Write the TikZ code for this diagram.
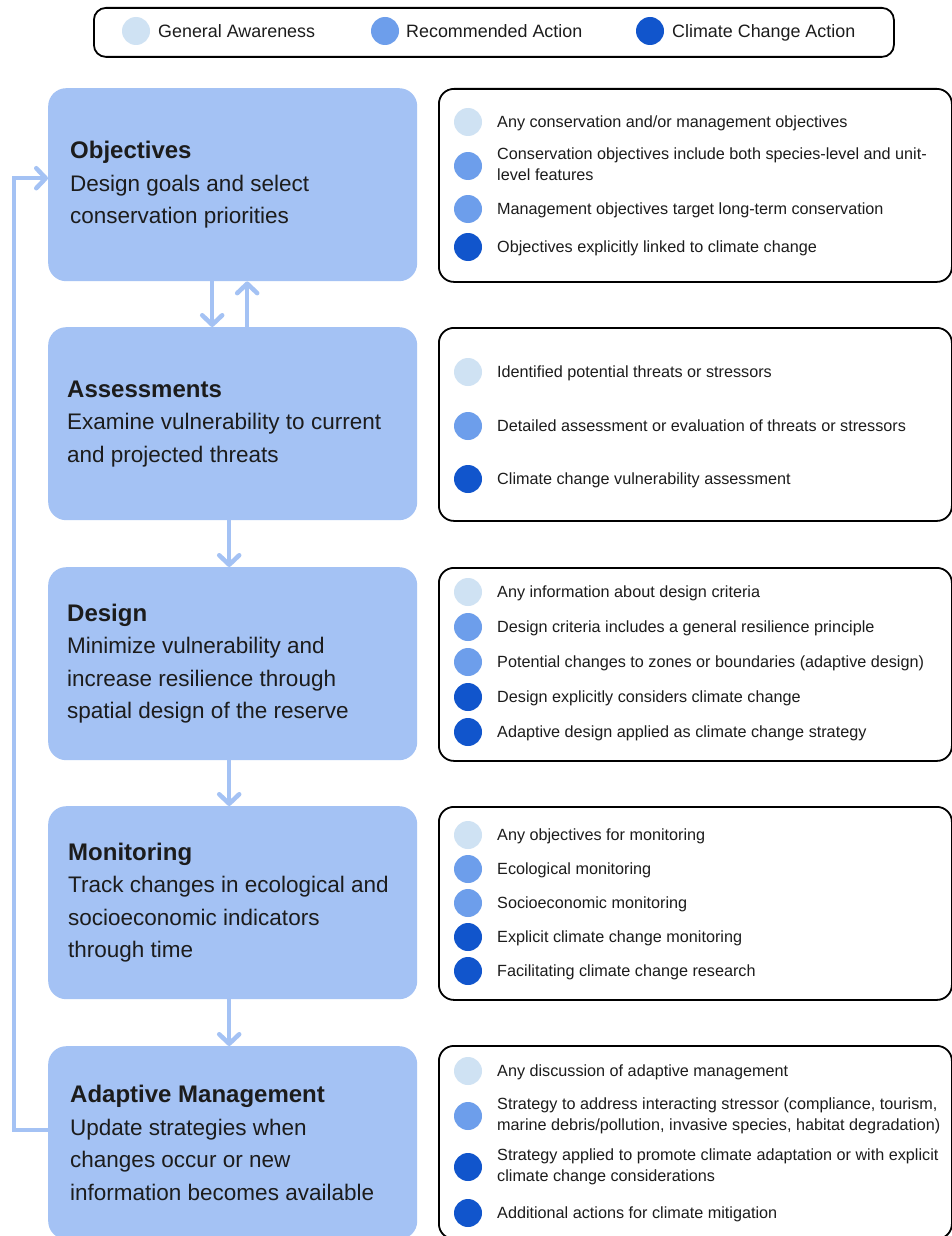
\documentclass[tikz,border=0pt]{standalone}
\usepackage{fontspec}
\setmainfont{Liberation Sans}
\usetikzlibrary{arrows.meta}

\definecolor{awarecol}{HTML}{CFE2F3}
\definecolor{reccol}{HTML}{6D9EEB}
\definecolor{climcol}{HTML}{1155CC}
\definecolor{stagefill}{HTML}{A4C2F4}
\definecolor{inktext}{HTML}{1C1C1C}

% one coloured dot with its description to the right
\newcommand\checkitem[4]{%
  \node[dot, fill=#2] (#1) at (468,#3) {};
  \node[itemtext] (#1t) at ([yshift=-1.5pt]#1.center -| 497,0) {#4};
}

\begin{document}
\begin{tikzpicture}[x=1pt, y=-1pt,
  stagebox/.style={rectangle, rounded corners=18pt, fill=stagefill, draw=none,
    minimum width=369pt, minimum height=193pt, anchor=north west, inner sep=0pt},
  stagetext/.style={anchor=west, align=left, inner sep=0pt, text=inktext,
    font=\fontsize{22.5}{32.5}\selectfont},
  listbox/.style={rectangle, rounded corners=15pt, draw=black, line width=1.8pt,
    fill=white, minimum width=513pt, minimum height=193pt, anchor=north west, inner sep=0pt},
  dot/.style={circle, minimum size=28pt, inner sep=0pt, draw=none},
  itemtext/.style={anchor=west, align=left, inner sep=0pt, text=inktext,
    font=\fontsize{16.2}{21.5}\selectfont,
    execute at begin node=\strut, execute at end node=\strut},
  legtext/.style={anchor=west, inner sep=0pt, text=inktext,
    font=\fontsize{17.9}{21}\selectfont,
    execute at begin node=\strut, execute at end node=\strut},
  flow/.style={draw=stagefill, line width=4.5pt,
    -{Straight Barb[length=9.5pt, width=20pt, line cap=round, line join=round]}},
]
\clip (0,0) rectangle (952,1236);
\fill[white] (0,0) rectangle (952,1236);

% legend
\node[rectangle, rounded corners=12pt, draw=black, line width=1.8pt,
  minimum width=800pt, minimum height=49pt, anchor=north west, inner sep=0pt] (legend) at (93,7) {};
\node[dot, fill=awarecol] (lg1) at (136,31) {};
\node[legtext] (lg1t) at (158,33.5) {General Awareness};
\node[dot, fill=reccol] (lg2) at (385,31) {};
\node[legtext] (lg2t) at (406,33.5) {Recommended Action};
\node[dot, fill=climcol] (lg3) at (650,31) {};
\node[legtext] (lg3t) at (672,33.5) {Climate Change Action};

% stages
\node[stagebox] (obj) at (48,88) {};
\node[stagebox] (ass) at (48,327) {};
\node[stagebox] (des) at (48,567) {};
\node[stagebox] (mon) at (48,806) {};
\node[stagebox] (adm) at (48,1046) {};

\node[stagetext] (objt) at ([xshift=22pt]obj.west)
  {{\fontsize{24}{32.5}\selectfont\bfseries Objectives}\\Design goals and select\\conservation priorities};
\node[stagetext] (asst) at ([xshift=19pt]ass.west)
  {{\fontsize{24}{32.5}\selectfont\bfseries Assessments}\\Examine vulnerability to current\\and projected threats};
\node[stagetext] (dest) at ([xshift=19pt]des.west)
  {{\fontsize{24}{32.5}\selectfont\bfseries Design}\\Minimize vulnerability and\\increase resilience through\\spatial design of the reserve};
\node[stagetext] (mont) at ([xshift=20pt]mon.west)
  {{\fontsize{24}{32.5}\selectfont\bfseries Monitoring}\\Track changes in ecological and\\socioeconomic indicators\\through time};
\node[stagetext] (admt) at ([xshift=22pt]adm.west)
  {{\fontsize{24}{32.5}\selectfont\bfseries Adaptive Management}\\Update strategies when\\changes occur or new\\information becomes available};

% connectors between stages
\draw[flow] ([xshift=-20.5pt]obj.south) -- ([xshift=-20.5pt]ass.north);
\draw[flow] ([xshift=14.5pt]ass.north) -- ([xshift=14.5pt]obj.south);
\draw[flow] ([xshift=-3.5pt]ass.south) -- ([xshift=-3.5pt]des.north);
\draw[flow] ([xshift=-3.5pt]des.south) -- ([xshift=-3.5pt]mon.north);
\draw[flow] ([xshift=-3.5pt]mon.south) -- ([xshift=-3.5pt]adm.north);
% feedback loop back to the objectives
\draw[flow, line join=miter] ([yshift=12.5pt]adm.west) -- ++(-34,0) |- ([yshift=6.5pt]obj.west);

% checklists
\node[listbox] (objL) at (438,88) {};
\node[listbox] (assL) at (438,327) {};
\node[listbox] (desL) at (438,567) {};
\node[listbox] (monL) at (438,806) {};
\node[listbox] (admL) at (438,1045) {};

\checkitem{o1}{awarecol}{122}{Any conservation and/or management objectives}
\checkitem{o2}{reccol}{166}{Conservation objectives include both species-level and unit-\\level features}
\checkitem{o3}{reccol}{209}{Management objectives target long-term conservation}
\checkitem{o4}{climcol}{247}{Objectives explicitly linked to climate change}

\checkitem{a1}{awarecol}{372}{Identified potential threats or stressors}
\checkitem{a2}{reccol}{426}{Detailed assessment or evaluation of threats or stressors}
\checkitem{a3}{climcol}{479}{Climate change vulnerability assessment}

\checkitem{d1}{awarecol}{592}{Any information about design criteria}
\checkitem{d2}{reccol}{627}{Design criteria includes a general resilience principle}
\checkitem{d3}{reccol}{662}{Potential changes to zones or boundaries (adaptive design)}
\checkitem{d4}{climcol}{697}{Design explicitly considers climate change}
\checkitem{d5}{climcol}{732}{Adaptive design applied as climate change strategy}

\checkitem{m1}{awarecol}{835}{Any objectives for monitoring}
\checkitem{m2}{reccol}{869}{Ecological monitoring}
\checkitem{m3}{reccol}{903}{Socioeconomic monitoring}
\checkitem{m4}{climcol}{937}{Explicit climate change monitoring}
\checkitem{m5}{climcol}{971}{Facilitating climate change research}

\checkitem{p1}{awarecol}{1071}{Any discussion of adaptive management}
\checkitem{p2}{reccol}{1116}{Strategy to address interacting stressor (compliance, tourism,\\marine debris/pollution, invasive species, habitat degradation)}
\checkitem{p3}{climcol}{1167}{Strategy applied to promote climate adaptation or with explicit\\climate change considerations}
\checkitem{p4}{climcol}{1213}{Additional actions for climate mitigation}
\end{tikzpicture}
\end{document}
